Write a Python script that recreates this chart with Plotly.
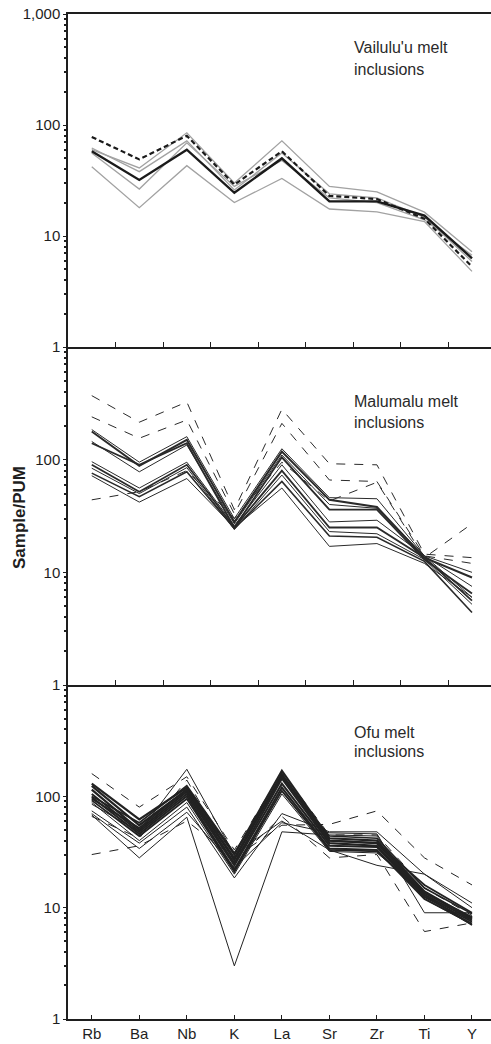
import plotly.graph_objects as go

# ---------------- data ----------------
elements = ["Rb", "Ba", "Nb", "K", "La", "Sr", "Zr", "Ti", "Y"]

# Vailulu'u melt inclusions
vai_dashed = [78, 49, 80, 29, 58, 23, 21.5, 14.3, 5.3]
vai_mean = [58, 32, 60, 24.5, 50, 20.5, 20.5, 15.3, 6.3]
vai_g1 = [60, 41, 85, 30, 72, 28, 25, 16.4, 7.2]
vai_g2 = [56, 26.5, 69, 28, 48, 22, 20, 14, 6.7]
vai_g3 = [42, 18, 43, 20, 33, 17.5, 16.5, 13.5, 4.8]
vai_g4 = [62, 38, 72, 26, 56, 24, 22, 14.8, 5.9]

# Malumalu melt inclusions
mal_01 = [370, 215, 325, 36, 280, 92, 90, 14.5, 13.5]
mal_02 = [240, 155, 225, 33, 210, 66, 64, 14, 12]
mal_03 = [185, 95, 160, 30, 125, 46, 45, 14, 10]
mal_04 = [178, 88, 150, 28, 118, 44, 38, 13.5, 9]
mal_05 = [145, 78, 135, 27, 110, 40, 37, 14, 7.5]
mal_06 = [140, 90, 140, 25, 105, 36, 36, 13, 6.5]
mal_07 = [96, 56, 95, 26, 90, 28, 29, 14, 6]
mal_08 = [90, 52, 90, 25, 80, 25, 25, 13.5, 5.6]
mal_09 = [84, 50, 85, 24, 73, 23, 22, 13, 5.2]
mal_10 = [76, 47, 78, 24.5, 64, 21, 20.5, 12.5, 4.4]
mal_11 = [72, 42, 68, 25, 56, 17, 18, 12, 6]
mal_12 = [44, 52, 80, 30, 95, 43, 63, 13.5, 27]

# Ofu melt inclusions
ofu_01 = [160, 80, 150, 33, 165, 45, 45, 15, 8.5]
ofu_02 = [130, 62, 120, 30, 170, 42, 40, 14, 8]
ofu_03 = [124, 55, 115, 27, 155, 40, 38, 13.5, 8.2]
ofu_04 = [115, 50, 110, 25, 145, 38, 36, 13, 7.8]
ofu_05 = [105, 48, 105, 24, 130, 36, 35, 12.5, 7.5]
ofu_06 = [98, 46, 100, 22, 120, 34, 33, 12, 7.2]
ofu_07 = [92, 44, 95, 21, 112, 33, 32, 13, 7]
ofu_08 = [88, 40, 88, 20, 105, 32, 31, 14, 7.5]
ofu_09 = [95, 52, 115, 28, 160, 40, 38, 16, 9]
ofu_10 = [100, 58, 125, 31, 150, 44, 42, 15, 8.8]
ofu_11 = [74, 38, 80, 18.5, 70, 48, 48, 20, 11]
ofu_12 = [70, 34, 72, 23, 58, 47, 46, 9, 9]
ofu_13 = [68, 28, 65, 3, 48, 45, 44, 12, 7]
ofu_14 = [30, 36, 60, 28, 55, 56, 74, 28, 16]
ofu_15 = [85, 48, 175, 30, 60, 33, 24, 20, 10]
ofu_16 = [66, 42, 140, 26, 66, 28, 30, 6.1, 7.3]

y_tickvals_top = [1, 10, 100, 1000]
y_ticktext_top = ["1", "10", "100", "1,000"]
y_tickvals_mid = [1, 10, 100]
y_ticktext_mid = ["1", "10", "100"]
y_tickvals_bot = [1, 10, 100]
y_ticktext_bot = ["1", "10", "100"]

panel_labels = [("Vailulu'u melt", "inclusions"),
                ("Malumalu melt", "inclusions"),
                ("Ofu melt", "inclusions")]

# ---------------- figure ----------------
xpos = list(range(len(elements)))
FONT = "Liberation Sans, Arial, Helvetica, sans-serif"
INK = "#1e1e1e"

fig = go.Figure()


def add_line(vals, panel, color, width, dash="solid"):
    fig.add_trace(go.Scatter(
        x=xpos, y=vals, mode="lines",
        line=dict(color=color, width=width, dash=dash),
        xaxis="x" if panel == 1 else f"x{panel}",
        yaxis="y" if panel == 1 else f"y{panel}",
        showlegend=False, hoverinfo="skip"))


# panel 1
for s in [vai_g1, vai_g2, vai_g3, vai_g4]:
    add_line(s, 1, "#a2a2a2", 1.3)
add_line(vai_mean, 1, "#1a1a1a", 2.4)
add_line(vai_dashed, 1, "#1a1a1a", 2.2, "5px,3px")

# panel 2
mal_lines = [mal_01, mal_02, mal_03, mal_04, mal_05, mal_06,
             mal_07, mal_08, mal_09, mal_10, mal_11, mal_12]
mal_dash = {0: "dash", 1: "dash", 11: "dash"}
mal_thick = {3: 2.0, 5: 1.8, 7: 1.8, 9: 1.6}
for i, s in enumerate(mal_lines):
    add_line(s, 2, "#2a2a2a", mal_thick.get(i, 1.0), mal_dash.get(i, "solid"))

# panel 3
ofu_lines = [ofu_01, ofu_02, ofu_03, ofu_04, ofu_05, ofu_06, ofu_07, ofu_08,
             ofu_09, ofu_10, ofu_11, ofu_12, ofu_13, ofu_14, ofu_15, ofu_16]
ofu_dash = {0: "dash", 13: "dash", 15: "dash"}
ofu_thick = {1: 2.2, 2: 2.2, 3: 2.2, 4: 2.0, 5: 2.0, 6: 1.8, 8: 1.8, 9: 1.6}
for i, s in enumerate(ofu_lines):
    add_line(s, 3, "#222222", ofu_thick.get(i, 1.0), ofu_dash.get(i, "solid"))

# geometry (pixels)
W, H = 491, 1044
ML, MR, MT, MB = 68, 0, 14, 25
PH = H - MT - MB
PW = W - ML - MR


def py(pix):
    return (H - MB - pix) / PH


def px(pix):
    return (pix - ML) / PW


d1 = [py(347), 1.0]
d2 = [py(685), py(347)]
d3 = [0.0, py(685)]

minor_vals = [m * 10 ** e for e in range(3) for m in range(2, 10)]
xrange_ = [-0.5, 8.4]

common_x = dict(range=xrange_, showline=True, linecolor=INK, linewidth=1.6,
                showgrid=False, zeroline=False, fixedrange=True,
                automargin=False)
common_y = dict(type="log", range=[0, 3], showline=True, linecolor=INK,
                linewidth=1.5, showgrid=False, zeroline=False,
                ticks="outside", ticklen=3, tickcolor=INK, tickwidth=1,
                tickfont=dict(family=FONT, size=15, color=INK),
                minor=dict(tickvals=minor_vals, ticks="outside", ticklen=2,
                           tickcolor=INK, tickwidth=1.5),
                automargin=False)

mid_ticks = [i + 0.5 for i in range(len(elements) - 1)]

fig.update_layout(
    width=W, height=H,
    margin=dict(l=ML, r=MR, t=MT, b=MB),
    paper_bgcolor="white", plot_bgcolor="white",
    template="none",
    xaxis=dict(common_x, domain=[0, 1], anchor="y", mirror=True,
               tickvals=mid_ticks, ticks="inside", ticklen=5, tickcolor=INK,
               showticklabels=False),
    xaxis2=dict(common_x, domain=[0, 1], anchor="y2", tickvals=mid_ticks,
                ticks="inside", ticklen=5, tickcolor=INK, showticklabels=False),
    xaxis3=dict(common_x, domain=[0, 1], anchor="y3", tickvals=xpos,
                ticktext=elements, ticks="inside", ticklen=4, tickcolor=INK,
                tickfont=dict(family=FONT, size=15, color=INK)),
    yaxis=dict(common_y, domain=d1, anchor="x", tickvals=y_tickvals_top,
               ticktext=y_ticktext_top),
    yaxis2=dict(common_y, domain=d2, anchor="x2", tickvals=y_tickvals_mid,
                ticktext=y_ticktext_mid),
    yaxis3=dict(common_y, domain=d3, anchor="x3", tickvals=y_tickvals_bot,
                ticktext=y_ticktext_bot),
)

# panel labels
label_pos = [(48, 70), (402, 422), (732, 751)]
for (l1, l2), (y1, y2) in zip(panel_labels, label_pos):
    for txt, yy in ((l1, y1), (l2, y2)):
        fig.add_annotation(text=txt, xref="paper", yref="paper",
                           x=px(352), y=py(yy), xanchor="left",
                           yanchor="middle", showarrow=False,
                           font=dict(family=FONT, size=16, color="#2a2a2a"))

# y-axis title
fig.add_annotation(text="<b>Sample/PUM</b>", xref="paper", yref="paper",
                   x=px(19), y=py(518), xanchor="center", yanchor="middle",
                   textangle=-90, showarrow=False,
                   font=dict(family=FONT, size=17, color=INK))

fig.write_html(
    "out.html",
    config={"displayModeBar": False},
    post_script="document.body.style.margin='0px';"
                "document.body.style.padding='0px';"
                "document.body.style.overflow='hidden';")
